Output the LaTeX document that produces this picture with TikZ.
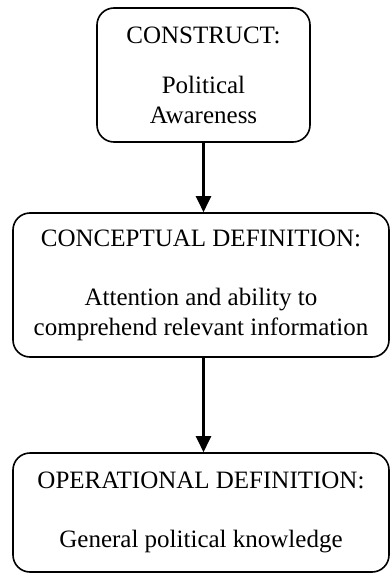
\documentclass[tikz,border=0pt]{standalone}
\usepackage{fontspec}
\setmainfont{Liberation Serif}
\usetikzlibrary{positioning,arrows.meta}

\begin{document}
\begin{tikzpicture}[x=1pt,y=-1pt,
        boite/.style={draw,line width=1.6pt,rounded corners=17pt,align=center,
            font=\fontsize{25}{30}\selectfont,inner sep=0pt},
        fleche/.style={line width=2.2pt,-{Triangle[width=15pt,length=16pt]}}]
            \useasboundingbox (0,0) rectangle (390,573);
            \node [boite,minimum width=213pt,minimum height=134pt] (construct) at (203.5,75)
                {CONSTRUCT:\\[20pt]Political\\Awareness};
            \node [boite,minimum width=376pt,minimum height=144pt] (concept) at (201,285)
                {CONCEPTUAL DEFINITION:\\[29pt]Attention and ability to\\comprehend relevant information};
            \node [boite,minimum width=376pt,minimum height=119pt] (operation) at (201,512.5)
                {OPERATIONAL DEFINITION:\\[29pt]General political knowledge};
            \draw [fleche] (construct.south) -- (construct.south |- concept.north);
            \draw [fleche] (concept.south -| construct.south) -- (operation.north -| construct.south);
        \end{tikzpicture}
\end{document}
